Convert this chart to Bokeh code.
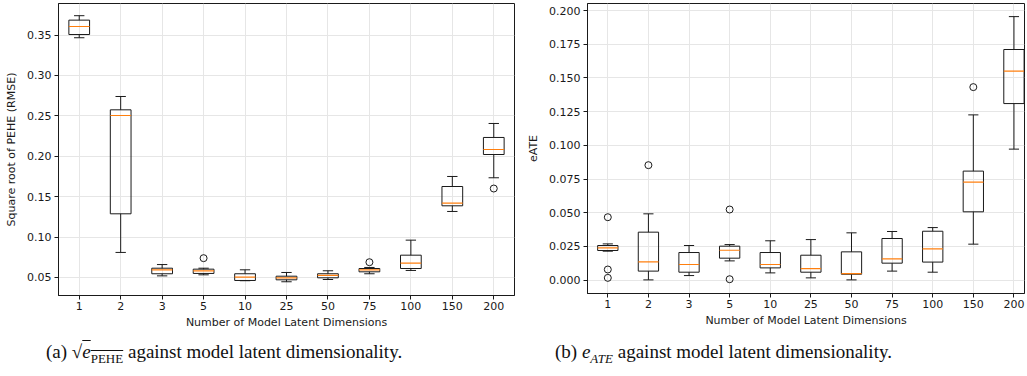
import numpy as np
from bokeh.plotting import figure
from bokeh.models import FixedTicker, Range1d, Div, NumeralTickFormatter
from bokeh.layouts import column, row
from bokeh.embed import file_html
from bokeh.resources import INLINE

# ---------------- data ----------------
dims = ["1", "2", "3", "5", "10", "25", "50", "75", "100", "150", "200"]

pehe_lo  = [0.3467, 0.0810, 0.0520, 0.0533, 0.0460, 0.0447, 0.0475, 0.0546, 0.0587, 0.1317, 0.1734]
pehe_q1  = [0.3507, 0.1288, 0.0546, 0.0550, 0.0463, 0.0471, 0.0496, 0.0570, 0.0611, 0.1387, 0.2022]
pehe_med = [0.3606, 0.2505, 0.0595, 0.0583, 0.0504, 0.0496, 0.0525, 0.0595, 0.0677, 0.1420, 0.2084]
pehe_q3  = [0.3685, 0.2575, 0.0615, 0.0603, 0.0546, 0.0516, 0.0546, 0.0611, 0.0776, 0.1626, 0.2233]
pehe_hi  = [0.3740, 0.2740, 0.0660, 0.0615, 0.0595, 0.0562, 0.0583, 0.0624, 0.0962, 0.1750, 0.2406]
pehe_out = [[], [], [], [0.0739], [], [], [], [0.0689], [], [], [0.1601]]

ate_lo  = [0.0215, 0.0002, 0.0034, 0.0143, 0.0054, 0.0017, 0.0002, 0.0067, 0.0059, 0.0267, 0.0972]
ate_q1  = [0.0220, 0.0067, 0.0059, 0.0163, 0.0091, 0.0059, 0.0044, 0.0126, 0.0134, 0.0507, 0.1310]
ate_med = [0.0240, 0.0136, 0.0116, 0.0222, 0.0116, 0.0086, 0.0049, 0.0158, 0.0232, 0.0727, 0.1550]
ate_q3  = [0.0257, 0.0356, 0.0205, 0.0252, 0.0205, 0.0185, 0.0210, 0.0309, 0.0363, 0.0809, 0.1711]
ate_hi  = [0.0269, 0.0492, 0.0257, 0.0264, 0.0292, 0.0301, 0.0351, 0.0361, 0.0390, 0.1226, 0.1955]
ate_out = [[0.0467, 0.0079, 0.0017], [0.0853], [], [0.0524, 0.0007], [], [], [], [], [], [0.1432], []]

pehe_ticks = [0.05, 0.10, 0.15, 0.20, 0.25, 0.30, 0.35]
ate_ticks = [0.000, 0.025, 0.050, 0.075, 0.100, 0.125, 0.150, 0.175, 0.200]

FONT = "DejaVu Sans"
MED = "#ff7f0e"
INK = "#1a1a1a"


def make_panel(lo, q1, med, q3, hi, out, yticks, yfmt, ylabel, yrange, xrange,
               fw, fh, mbl, mbr, mbt):
    p = figure(frame_width=fw, frame_height=fh, x_range=Range1d(*xrange),
               y_range=Range1d(*yrange), min_border_left=mbl, min_border_right=mbr,
               min_border_top=mbt, min_border_bottom=10,
               output_backend="svg", toolbar_location=None)
    x = np.arange(1, len(dims) + 1, dtype=float)
    w = 0.25
    # whiskers
    p.segment(x, q3, x, hi, line_color=INK, line_width=1)
    p.segment(x, lo, x, q1, line_color=INK, line_width=1)
    # caps
    p.segment(x - w / 2, hi, x + w / 2, hi, line_color=INK, line_width=1)
    p.segment(x - w / 2, lo, x + w / 2, lo, line_color=INK, line_width=1)
    # boxes
    p.quad(left=x - w, right=x + w, bottom=q1, top=q3, fill_alpha=0,
           line_color=INK, line_width=1)
    # medians
    p.segment(x - w, med, x + w, med, line_color=MED, line_width=1.2)
    # outliers
    ox = [x[i] for i, o in enumerate(out) for _ in o]
    oy = [v for o in out for v in o]
    p.scatter(ox, oy, marker="circle", size=7, fill_color=None,
              line_color=INK, line_width=1)

    p.xaxis.ticker = FixedTicker(ticks=list(x))
    p.xaxis.major_label_overrides = {float(xx): d for xx, d in zip(x, dims)}
    p.yaxis.ticker = FixedTicker(ticks=yticks)
    p.yaxis.formatter = NumeralTickFormatter(format=yfmt)
    p.xaxis.axis_label = "Number of Model Latent Dimensions"
    p.yaxis.axis_label = ylabel
    for ax in (p.xaxis, p.yaxis):
        ax.major_label_text_font = FONT
        ax.major_label_text_font_size = "11px"
        ax.major_label_text_color = INK
        ax.axis_label_text_font = FONT
        ax.axis_label_text_font_size = "11px"
        ax.axis_label_text_font_style = "normal"
        ax.axis_label_text_color = INK
        ax.axis_line_color = INK
        ax.major_tick_line_color = INK
        ax.major_tick_out = 4
        ax.major_tick_in = 0
        ax.minor_tick_line_color = None
    p.xaxis.major_label_standoff = 2
    p.yaxis.major_label_standoff = 3
    p.xaxis.axis_label_standoff = 3
    p.yaxis.axis_label_standoff = 6
    p.grid.grid_line_color = "#e6e6e6"
    p.grid.grid_line_width = 1
    p.outline_line_color = INK
    p.outline_line_width = 1
    p.background_fill_color = "white"
    p.border_fill_color = "white"
    return p


p1 = make_panel(pehe_lo, pehe_q1, pehe_med, pehe_q3, pehe_hi, pehe_out,
                pehe_ticks, "0.00", "Square root of PEHE (RMSE)",
                (0.0277, 0.0277 + 292 / 808), (0.5, 11.5), 456, 292, 58, 10, 1)
p2 = make_panel(ate_lo, ate_q1, ate_med, ate_q3, ate_hi, ate_out,
                ate_ticks, "0.000", "eATE",
                (-0.0099, -0.0099 + 290 / 1348), (0.5, 11.26), 437, 290, 62, 1, 3)

cap_style = {"font-family": "'Liberation Serif', 'DejaVu Serif', serif",
             "font-size": "19px", "color": "#111111", "white-space": "nowrap"}
d1 = Div(text="(a) &radic;<span style='text-decoration: overline;'><i>e</i>"
              "<sub style='font-size:13px'>PEHE</sub></span> against model latent dimensionality.",
         width=524, styles=dict(cap_style, **{"padding-left": "41px", "margin-top": "9px"}))
d2 = Div(text="(b) <i>e</i><sub style='font-size:13px'><i>ATE</i></sub> against model latent dimensionality.",
         width=500, styles=dict(cap_style, **{"padding-left": "16px", "margin-top": "9px"}))

layout = column(row(p1, p2), row(d1, d2))
open("out.html", "w").write(file_html(layout, INLINE))
